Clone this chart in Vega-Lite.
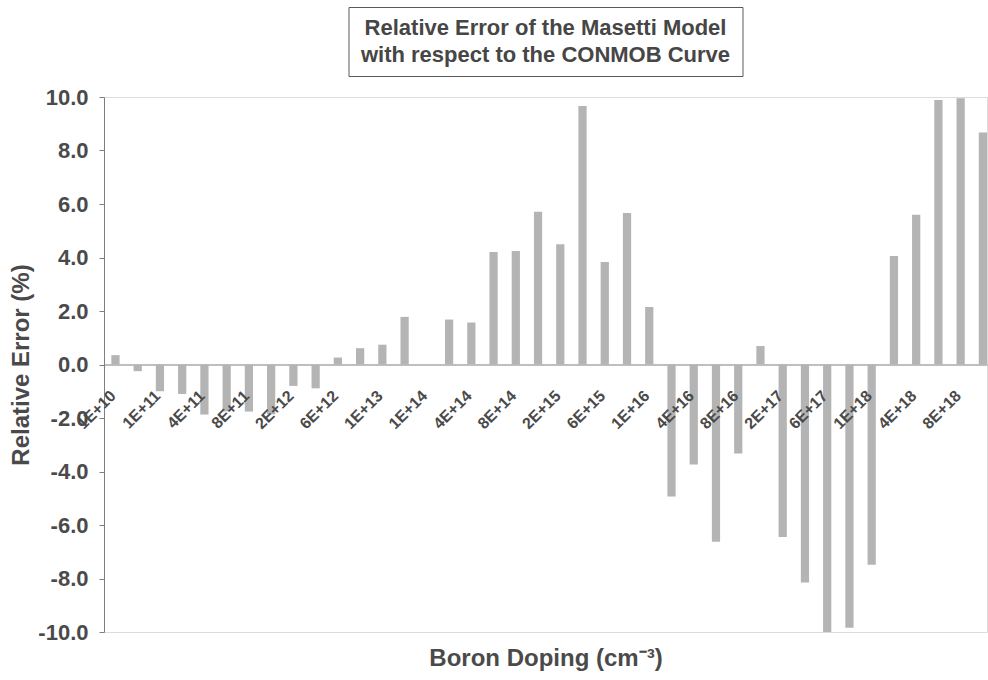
{
  "$schema": "https://vega.github.io/schema/vega-lite/v6.json",
  "background": "white",
  "padding": {"left": 9, "top": 6, "right": 0, "bottom": 0},
  "bounds": "flush",
  "center": true,
  "spacing": 21,
  "datasets": {
    "titleLines": [
      {"line": 1, "text": "Relative Error of the Masetti Model"},
      {"line": 2, "text": "with respect to the CONMOB Curve"}
    ],
    "errors": [
      {"doping": "1E+10", "error": 0.35},
      {"doping": "5E+10", "error": -0.25},
      {"doping": "1E+11", "error": -1.0},
      {"doping": "2E+11", "error": -1.1},
      {"doping": "4E+11", "error": -1.87},
      {"doping": "6E+11", "error": -1.75},
      {"doping": "8E+11", "error": -1.76},
      {"doping": "1E+12", "error": -1.86},
      {"doping": "2E+12", "error": -0.8},
      {"doping": "4E+12", "error": -0.89},
      {"doping": "6E+12", "error": 0.26},
      {"doping": "8E+12", "error": 0.61},
      {"doping": "1E+13", "error": 0.74},
      {"doping": "5E+13", "error": 1.78},
      {"doping": "1E+14", "error": 0},
      {"doping": "2E+14", "error": 1.68},
      {"doping": "4E+14", "error": 1.57},
      {"doping": "6E+14", "error": 4.21},
      {"doping": "8E+14", "error": 4.24},
      {"doping": "1E+15", "error": 5.71},
      {"doping": "2E+15", "error": 4.5},
      {"doping": "4E+15", "error": 9.66},
      {"doping": "6E+15", "error": 3.83},
      {"doping": "8E+15", "error": 5.66},
      {"doping": "1E+16", "error": 2.15},
      {"doping": "2E+16", "error": -4.93},
      {"doping": "4E+16", "error": -3.74},
      {"doping": "6E+16", "error": -6.63},
      {"doping": "8E+16", "error": -3.33},
      {"doping": "1E+17", "error": 0.69},
      {"doping": "2E+17", "error": -6.45},
      {"doping": "4E+17", "error": -8.15},
      {"doping": "6E+17", "error": -10.0},
      {"doping": "8E+17", "error": -9.84},
      {"doping": "1E+18", "error": -7.49},
      {"doping": "2E+18", "error": 4.06},
      {"doping": "4E+18", "error": 5.6},
      {"doping": "6E+18", "error": 9.89},
      {"doping": "8E+18", "error": 9.95},
      {"doping": "1E+19", "error": 8.67}
    ]
  },
  "vconcat": [
    {
      "width": 394,
      "height": 69,
      "view": {"stroke": "#5a5a5a", "strokeWidth": 1, "fill": "white"},
      "data": {"name": "titleLines"},
      "mark": {
        "type": "text",
        "font": "Liberation Sans",
        "fontWeight": "bold",
        "fontSize": 22,
        "color": "#464646",
        "baseline": "middle"
      },
      "encoding": {
        "y": {
          "field": "line",
          "type": "ordinal",
          "axis": null,
          "scale": {"type": "point", "padding": 0.8}
        },
        "text": {"field": "text"}
      }
    },
    {
      "width": 883,
      "height": 535,
      "view": {"stroke": "#dcdcdc", "strokeWidth": 1},
      "data": {"name": "errors"},
      "encoding": {
        "x": {
          "field": "doping",
          "type": "ordinal",
          "sort": null,
          "scale": {"paddingInner": 0.63, "paddingOuter": 0.165, "align": 1, "round": false},
          "axis": {
            "title": "Boron Doping (cm⁻³)",
            "labels": false,
            "offset": -267.5,
            "ticks": false,
            "domainColor": "#7f7f7f",
            "domainWidth": 1,
            "titleFont": "Liberation Sans",
            "titleFontWeight": "bold",
            "titleFontSize": 24,
            "titleColor": "#4a4a4a",
            "titleBaseline": "alphabetic",
            "titleY": 301
          }
        }
      },
      "layer": [
        {
          "mark": {"type": "bar", "color": "#b4b4b4"},
          "encoding": {
            "y": {
              "field": "error",
              "type": "quantitative",
              "scale": {"domain": [-10, 10], "nice": false},
              "axis": {
                "title": "Relative Error (%)",
                "values": [-10, -8, -6, -4, -2, 0, 2, 4, 6, 8, 10],
                "labelExpr": "(datum.value < 0 ? '-' : '') + format(abs(datum.value), '.1f')",
                "grid": false,
                "tickSize": 5,
                "tickColor": "#7f7f7f",
                "domainColor": "#7f7f7f",
                "labelPadding": 11,
                "labelFont": "Liberation Sans",
                "labelFontWeight": "bold",
                "labelFontSize": 22,
                "labelColor": "#4a4a4a",
                "titleFont": "Liberation Sans",
                "titleFontWeight": "bold",
                "titleFontSize": 24,
                "titleColor": "#4a4a4a",
                "titlePadding": 4
              }
            }
          }
        },
        {
          "transform": [
            {"filter": {"field": "doping", "oneOf": ["1E+10", "1E+11", "4E+11", "8E+11", "2E+12", "6E+12", "1E+13", "1E+14", "4E+14", "8E+14", "2E+15", "6E+15", "1E+16", "4E+16", "8E+16", "2E+17", "6E+17", "1E+18", "4E+18", "8E+18"]}}
          ],
          "mark": {
            "type": "text",
            "align": "right",
            "baseline": "top",
            "dx": -22,
            "dy": 11,
            "font": "Liberation Sans",
            "fontWeight": "bold",
            "fontSize": 16,
            "color": "#4a4a4a"
          },
          "encoding": {
            "y": {"datum": 0, "type": "quantitative"},
            "angle": {"value": -45},
            "text": {"field": "doping"}
          }
        }
      ]
    }
  ]
}
